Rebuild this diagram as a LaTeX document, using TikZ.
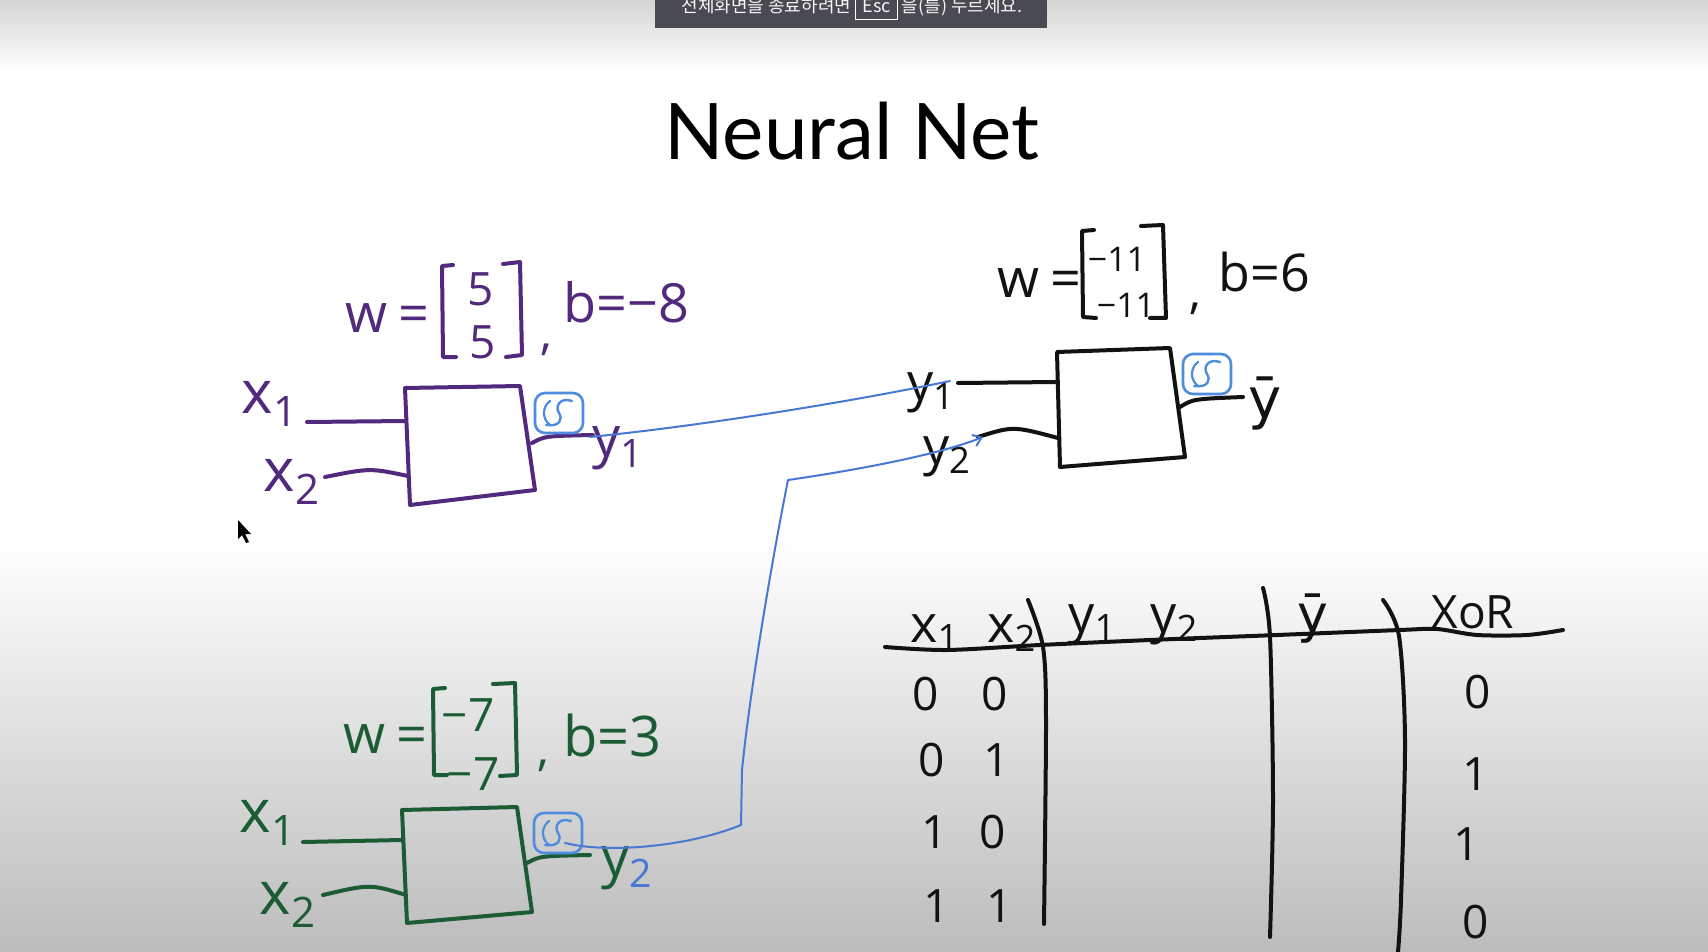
\documentclass[tikz,border=0pt]{standalone}
\usepackage{fontspec}
\setmainfont{Open Sans}
\newfontfamily\titlefont{Lato}
\newfontfamily\krfont{Noto Sans CJK KR}
\newfontfamily\dvfont{DejaVu Sans}
\usetikzlibrary{arrows.meta}
\definecolor{hpurple}{RGB}{82,42,125}
\definecolor{hgreen}{RGB}{28,92,52}
\definecolor{hblue}{RGB}{72,120,212}
\definecolor{sblue}{RGB}{78,140,222}
\definecolor{hblack}{RGB}{18,18,18}
\definecolor{toastbg}{RGB}{74,75,82}
\definecolor{topgray}{RGB}{212,212,212}
\definecolor{botgray}{RGB}{188,188,188}
\tikzset{
  hw/.style={font=\fontsize{#1}{#1}\selectfont, inner sep=0pt},
  ink/.style={line width=2pt, line cap=round, line join=round},
  wire/.style={line width=1pt, draw=hblue, line cap=round, line join=round},
  sigm/.pic={
    \draw[line width=1.3pt, draw=sblue, rounded corners=5pt] (-24,-20) rectangle (24,20);
    \draw[line width=1.2pt, draw=sblue, line cap=round] (13,-12) .. controls (0,-16) and (-4,-6) .. (0,0) .. controls (4,6) and (1,14) .. (-13,12);
    \draw[line width=1.1pt, draw=sblue, line cap=round] (-9,-12) .. controls (-17,-6) and (-17,6) .. (-9,12);
  }
}
\begin{document}
\begin{tikzpicture}[x=0.5pt,y=-0.5pt]
\useasboundingbox (0,0) rectangle (1708,952);
% background
\fill[white] (0,0) rectangle (1708,952);
\shade[top color=topgray, bottom color=white] (0,0) rectangle (1708,70);
\shade[top color=white, bottom color=botgray] (0,540) rectangle (1708,952);
% toast
\begin{scope}
\clip (0,0) rectangle (1708,952);
\fill[toastbg] (655,-10) rectangle (1047,28);
{\fboxsep=3pt\fboxrule=0.6pt
\node[font=\krfont\fontsize{9}{9}\selectfont, text=white!92!gray, anchor=base, inner sep=0pt] (toast) at (852,13) {전체화면을 종료하려면 \fcolorbox{white}{toastbg}{Esc} 을(를) 누르세요.};}
\end{scope}
% title
\node[font=\titlefont\fontsize{39}{39}\selectfont, anchor=base, text=black, inner sep=0pt] (title) at (852,160) {Neural Net};

% ---------- purple neuron ----------
\begin{scope}[text=hpurple, draw=hpurple]
\node[hw=27, anchor=base west] (pw) at (345,333) {w\hspace{0.2em}=};
\node[hw=23, anchor=base] (pw1) at (481,306) {5};
\node[hw=23, anchor=base] (pw2) at (483,358) {5};
\draw[ink, hpurple] (453,265) -- (442,266) -- (443,357) -- (456,357);
\draw[ink, hpurple] (503,264) -- (520,262) -- (522,355) -- (506,357);
\node[hw=24, anchor=base] (pc) at (546,350) {,};
\node[hw=27, anchor=base west] (pb) at (563,322) {b=−8};
\node[hw=30] (px1) at (270,404) {x\textsubscript{1}};
\node[hw=30] (px2) at (292,482) {x\textsubscript{2}};
\coordinate (pA) at (405,388); \coordinate (pB) at (520,386);
\coordinate (pC) at (535,490); \coordinate (pD) at (410,505);
\draw[ink, hpurple] (pA) -- (pB) -- (pC) -- (pD) -- cycle;
\coordinate (px1s) at (307,422); \coordinate (px1e) at (406,421);
\coordinate (px2s) at (325,477); \coordinate (px2e) at (408,476);
\draw[ink, hpurple] (px1s) -- (px1e);
\draw[ink, hpurple] (px2s) .. controls (370,468) .. (px2e);
\coordinate (pouts) at (532,443); \coordinate (poute) at (593,435);
\draw[ink, hpurple] (pouts) .. controls (545,436) .. (poute);
\node[hw=28] (py1) at (618,448) {y\textsubscript{1}};
\end{scope}
\pic (psig) at (559,413) {sigm};

% ---------- black neuron ----------
\begin{scope}[text=hblack]
\node[hw=27, anchor=base west] (kw) at (997,298) {w\hspace{0.2em}=};
\node[hw=17, anchor=base] (kw1) at (1117,271) {−11};
\node[hw=17, anchor=base] (kw2) at (1126,317) {−11};
\draw[ink, hblack] (1094,230) -- (1082,231) -- (1083,317) -- (1096,318);
\draw[ink, hblack] (1141,226) -- (1163,225) -- (1166,318) -- (1150,318);
\node[hw=24, anchor=base] (kc) at (1195,308) {,};
\node[hw=26, anchor=base west] (kb) at (1218,292) {b=6};
\coordinate (kA) at (1057,352); \coordinate (kB) at (1170,348);
\coordinate (kC) at (1185,457); \coordinate (kD) at (1060,467);
\draw[ink, hblack] (kA) -- (kB) -- (kC) -- (kD) -- cycle;
\node[hw=26] (ky1) at (931,393) {y\textsubscript{1}};
\node[hw=26] (ky2) at (947,457) {y\textsubscript{2}};
\coordinate (ky1s) at (958,383); \coordinate (ky1e) at (1057,382);
\coordinate (ky2s) at (978,437); \coordinate (ky2e) at (1058,438);
\draw[ink, hblack] (ky1s) -- (ky1e);
\draw[ink, hblack] (ky2s) .. controls (1013,426) .. (ky2e);
\coordinate (kouts) at (1180,407); \coordinate (koute) at (1243,397);
\draw[ink, hblack] (kouts) .. controls (1193,399) .. (koute);
\node[hw=30, font=\dvfont\fontsize{28}{28}\selectfont] (kyb) at (1265,403) {ȳ};
\end{scope}
\pic (ksig) at (1207,374) {sigm};

% ---------- green neuron ----------
\begin{scope}[text=hgreen]
\node[hw=27, anchor=base west] (gw) at (343,753) {w\hspace{0.2em}=};
\node[hw=23, anchor=base] (gw1) at (468,731) {−7};
\node[hw=23, anchor=base] (gw2) at (473,790) {−7};
\draw[ink, hgreen] (445,688) -- (433,689) -- (434,775) -- (447,775);
\draw[ink, hgreen] (493,684) -- (515,683) -- (517,775) -- (500,776);
\node[hw=24, anchor=base] (gc) at (543,765) {,};
\node[hw=28, anchor=base west] (gb) at (563,756) {b=3};
\coordinate (gA) at (402,810); \coordinate (gB) at (517,807);
\coordinate (gC) at (532,912); \coordinate (gD) at (407,923);
\draw[ink, hgreen] (gA) -- (gB) -- (gC) -- (gD) -- cycle;
\node[hw=30] (gx1) at (268,823) {x\textsubscript{1}};
\node[hw=30] (gx2) at (288,905) {x\textsubscript{2}};
\coordinate (gx1s) at (303,842); \coordinate (gx1e) at (402,840);
\coordinate (gx2s) at (323,895); \coordinate (gx2e) at (406,895);
\draw[ink, hgreen] (gx1s) -- (gx1e);
\draw[ink, hgreen] (gx2s) .. controls (370,884) .. (gx2e);
\coordinate (gouts) at (527,863); \coordinate (goute) at (590,855);
\draw[ink, hgreen] (gouts) .. controls (540,856) .. (goute);
\node[hw=28] (gy2) at (627,868) {y\textsubscript{\color{hblue}2}};
\end{scope}
\pic (gsig) at (558,833) {sigm};

% ---------- blue wires ----------
\coordinate (w1s) at (590,437);
\coordinate (w1e) at (950,381);
\draw[wire] (w1s) .. controls (700,426) and (850,402) .. (w1e);
\coordinate (w2s) at (565,843);
\coordinate (w2a) at (741,825);
\coordinate (w2b) at (742,770);
\coordinate (w2c) at (788,480);
\coordinate (w2e) at (983,437);
\draw[wire, -{Straight Barb[length=4pt,width=6pt]}] (w2s) .. controls (610,854) and (690,846) .. (w2a) -- (w2b) .. controls (750,690) and (772,560) .. (w2c) .. controls (830,474) and (930,458) .. (w2e);

% ---------- table ----------
\draw[ink, hblack] plot[smooth] coordinates {(885,647) (947,650) (1040,645) (1150,640) (1277,635) (1400,630) (1437,629) (1477,635) (1527,635) (1563,630)};
\draw[ink, hblack] plot[smooth] coordinates {(1028,600) (1043,647) (1046,720) (1044,924)};
\draw[ink, hblack] plot[smooth] coordinates {(1263,588) (1270,637) (1273,800) (1270,937)};
\draw[ink, hblack] plot[smooth] coordinates {(1383,600) (1399,636) (1405,740) (1401,900) (1398,952)};
\begin{scope}[text=hblack]
\node[hw=26, anchor=base west] (tx1) at (910,642) {x\textsubscript{1}};
\node[hw=26, anchor=base west] (tx2) at (987,642) {x\textsubscript{2}};
\node[hw=26, anchor=base west] (ty1) at (1068,632) {y\textsubscript{1}};
\node[hw=26, anchor=base west] (ty2) at (1150,632) {y\textsubscript{2}};
\node[inner sep=0pt, font=\dvfont\fontsize{26}{26}\selectfont, anchor=base] (tyb) at (1313,632) {ȳ};
\node[hw=23, anchor=base] (txor) at (1473,628) {XoR};
\foreach \n/\x/\y/\t in {a1/926/710/0, a2/932/776/0, a3/935/848/1, a4/937/922/1,
  b1/995/710/0, b2/997/776/1, b3/993/848/0, b4/1000/922/1,
  c1/1478/708/0, c2/1476/790/1, c3/1467/860/1, c4/1476/938/0}
  \node[hw=23, anchor=base] (t\n) at (\x,\y) {\t};
\end{scope}

% cursor
\fill[black] (238,520) -- (238,539) -- (242,535) -- (246,543) -- (249,542) -- (245,534) -- (251,534) -- cycle;
\end{tikzpicture}
\end{document}
